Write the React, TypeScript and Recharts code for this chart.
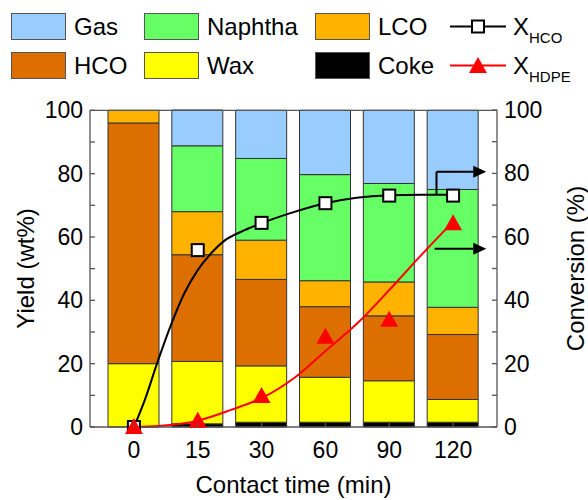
import { ComposedChart, Bar, Line, XAxis, YAxis, ReferenceLine } from 'recharts';

// ─── Data ───────────────────────────────────────────────────
const categories = ['0', '15', '30', '60', '90', '120'];
const coke = [0, 1, 1.5, 1.5, 1.5, 1.5];
const wax = [20, 19.7, 17.8, 14.2, 13.1, 7.2];
const hco = [76, 33.7, 27.3, 22.3, 20.5, 20.5];
const lco = [4, 13.6, 12.4, 8.2, 10.7, 8.6];
const naphtha = [0, 20.8, 25.8, 33.5, 31.1, 37.2];
const gas = [0, 11.3, 15.2, 20.3, 23.1, 25.0];

const xHco = [0, 55.8, 64.4, 70.6, 73.0, 73.0];
const xHdpe = [0, 2.0, 9.8, 28.5, 33.8, 64.3];

// fitted curves (x in category steps)
const hcoFitPos = [0, 0.17, 0.38, 0.59, 0.79, 1.0, 1.21, 1.42, 1.68, 2.0, 2.44, 3.0, 3.49, 4.0, 4.5, 5.0];
const hcoFitVal = [0, 8.5, 21.1, 32.7, 42.2, 49.5, 54.8, 58.8, 61.6, 64.3, 67.4, 70.6, 72.3, 73.1, 73.3, 73.3];
const hdpeFitPos = [0, 0.38, 1.0, 1.52, 2.0, 2.5, 3.0, 3.5, 4.0, 4.5, 5.0];
const hdpeFitVal = [0, 0.3, 2.0, 5.4, 9.1, 15.3, 24.0, 32.7, 43.2, 54.2, 64.8];

const yTicks = [0, 10, 20, 30, 40, 50, 60, 70, 80, 90, 100];

const barData = categories.map((t, i) => ({
  t, coke: coke[i], wax: wax[i], hco: hco[i], lco: lco[i], naphtha: naphtha[i], gas: gas[i],
}));
const hcoPoints = categories.map((_, i) => ({ x: i, y: xHco[i] }));
const hdpePoints = categories.map((_, i) => ({ x: i, y: xHdpe[i] }));
const hcoFit = hcoFitPos.map((x, i) => ({ x, y: hcoFitVal[i] }));
const hdpeFit = hdpeFitPos.map((x, i) => ({ x, y: hdpeFitVal[i] }));

const FONT = '"Liberation Sans", Arial, sans-serif';
const AXIS = '#555';
const C = {
  gas: '#99CCFF', naphtha: '#66FF66', lco: '#FFB300',
  hco: '#DD6F00', wax: '#FFFF00', coke: '#000000',
};

// ─── Ticks ──────────────────────────────────────────────────
function LeftTick({ x, y, payload }: any) {
  return (
    <g>
      <line x1={x} x2={x + 5} y1={y} y2={y} stroke={AXIS} strokeWidth={1.3} />
      {payload.value % 20 === 0 && (
        <text x={x - 7} y={y} dy="0.35em" textAnchor="end" fontSize={23} fontFamily={FONT} fill="#000">
          {payload.value}
        </text>
      )}
    </g>
  );
}

function RightTick({ x, y, payload }: any) {
  return (
    <g>
      <line x1={x - 5} x2={x} y1={y} y2={y} stroke={AXIS} strokeWidth={1.3} />
      {payload.value % 20 === 0 && (
        <text x={x + 7} y={y} dy="0.35em" textAnchor="start" fontSize={23} fontFamily={FONT} fill="#000">
          {payload.value}
        </text>
      )}
    </g>
  );
}

function BottomTick({ x, y, payload }: any) {
  return (
    <g>
      <line x1={x} x2={x} y1={y - 4} y2={y} stroke={AXIS} strokeWidth={1.3} />
      <text x={x} y={y + 23} dy="0.35em" textAnchor="middle" fontSize={23} fontFamily={FONT} fill="#000">
        {payload.value}
      </text>
    </g>
  );
}

function XTitle({ viewBox, text }: any) {
  return (
    <text x={viewBox.x + viewBox.width / 2} y={viewBox.y + 58} dy="0.35em" textAnchor="middle"
      fontSize={24} fontFamily={FONT} fill="#000">
      {text}
    </text>
  );
}

function VTitle({ viewBox, text, dx }: any) {
  const cx = viewBox.x + dx;
  const cy = viewBox.y + viewBox.height / 2;
  return (
    <text x={cx} y={cy} dy="0.35em" textAnchor="middle" fontSize={24} fontFamily={FONT}
      transform={`rotate(-90 ${cx} ${cy})`} fill="#000">
      {text}
    </text>
  );
}

// ─── Markers ────────────────────────────────────────────────
function SquareDot({ cx, cy, index }: any) {
  return <rect key={index} x={cx - 6} y={cy - 6} width={12} height={12} fill="#fff" stroke="#000" strokeWidth={2} />;
}
function TriangleDot({ cx, cy, index }: any) {
  return <polygon key={index} points={`${cx},${cy - 9} ${cx - 9},${cy + 7} ${cx + 9},${cy + 7}`} fill="#FF0000" />;
}

function Arrow({ x1, y1, x2, y2 }: any) {
  const h = 13;
  return (
    <g>
      <line x1={x1} y1={y1} x2={x2 - h} y2={y2} stroke="#000" strokeWidth={2} />
      <polygon points={`${x2},${y2} ${x2 - h},${y2 - 6} ${x2 - h},${y2 + 6}`} fill="#000" />
    </g>
  );
}

// ─── Legend ─────────────────────────────────────────────────
const swatches = [
  { name: 'Gas', color: C.gas, left: 11, top: 13 },
  { name: 'Naphtha', color: C.naphtha, left: 144, top: 13 },
  { name: 'LCO', color: C.lco, left: 315, top: 13 },
  { name: 'HCO', color: C.hco, left: 11, top: 52 },
  { name: 'Wax', color: C.wax, left: 144, top: 52 },
  { name: 'Coke', color: C.coke, left: 315, top: 52 },
];

function LegendBlock() {
  return (
    <div style={{ position: 'absolute', left: 0, top: 0, width: 588, height: 100, fontFamily: FONT, fontSize: 24 }}>
      {swatches.map(s => (
        <div key={s.name} style={{ position: 'absolute', left: s.left, top: s.top, display: 'flex', alignItems: 'center' }}>
          <div style={{ width: 55, height: 27, background: s.color, border: '1px solid #555', boxSizing: 'border-box' }} />
          <span style={{ marginLeft: 8, lineHeight: '27px' }}>{s.name}</span>
        </div>
      ))}
      <svg style={{ position: 'absolute', left: 450, top: 0 }} width={138} height={100}>
        <line x1={0} x2={56} y1={26.5} y2={26.5} stroke="#000" strokeWidth={2} />
        <rect x={22} y={20.5} width={12} height={12} fill="#fff" stroke="#000" strokeWidth={2} />
        <line x1={0} x2={56} y1={65.5} y2={65.5} stroke="#FF0000" strokeWidth={2} />
        <polygon points="28,57 19,73 37,73" fill="#FF0000" />
        <text x={63} y={35} fontSize={24} fontFamily={FONT}>X<tspan fontSize={15} dy={8}>HCO</tspan></text>
        <text x={63} y={74} fontSize={24} fontFamily={FONT}>X<tspan fontSize={15} dy={8}>HDPE</tspan></text>
      </svg>
    </div>
  );
}

export default function App() {
  const stroke = '#333';
  return (
    <div style={{ position: 'relative', width: 588, height: 500, background: '#fff' }}>
      <style>{'body{margin:0}'}</style>
      <div style={{ position: 'absolute', left: 0, top: 0 }}>
        <ComposedChart width={588} height={500} data={barData} barSize={51}
          margin={{ top: 110, right: 0, bottom: 0, left: 0 }}>
          <XAxis xAxisId="cat" dataKey="t" type="category" padding={{ left: 12, right: 12 }}
            height={73} tick={<BottomTick />} tickLine={false} tickSize={0} tickMargin={0} interval={0}
            axisLine={{ stroke: AXIS, strokeWidth: 1.3 }}
            label={{ content: (p: any) => <XTitle viewBox={p.viewBox} text="Contact time (min)" /> }} />
          <XAxis xAxisId="n" dataKey="x" type="number" domain={[-0.688, 5.688]} allowDataOverflow hide />
          <YAxis yAxisId="left" domain={[0, 100]} ticks={yTicks} width={90} interval={0}
            tick={<LeftTick />} tickLine={false} tickSize={0} tickMargin={0}
            axisLine={{ stroke: AXIS, strokeWidth: 1.3 }}
            label={{ content: (p: any) => <VTitle viewBox={p.viewBox} text="Yield (wt%)" dx={26} /> }} />
          <YAxis yAxisId="right" orientation="right" domain={[0, 100]} ticks={yTicks} width={91} interval={0}
            tick={<RightTick />} tickLine={false} tickSize={0} tickMargin={0}
            axisLine={{ stroke: AXIS, strokeWidth: 1.3 }}
            label={{ content: (p: any) => <VTitle viewBox={p.viewBox} text="Conversion (%)" dx={79} /> }} />

          <Bar xAxisId="cat" yAxisId="left" dataKey="coke" stackId="s" fill={C.coke} stroke={stroke} isAnimationActive={false} />
          <Bar xAxisId="cat" yAxisId="left" dataKey="wax" stackId="s" fill={C.wax} stroke={stroke} isAnimationActive={false} />
          <Bar xAxisId="cat" yAxisId="left" dataKey="hco" stackId="s" fill={C.hco} stroke={stroke} isAnimationActive={false} />
          <Bar xAxisId="cat" yAxisId="left" dataKey="lco" stackId="s" fill={C.lco} stroke={stroke} isAnimationActive={false} />
          <Bar xAxisId="cat" yAxisId="left" dataKey="naphtha" stackId="s" fill={C.naphtha} stroke={stroke} isAnimationActive={false} />
          <Bar xAxisId="cat" yAxisId="left" dataKey="gas" stackId="s" fill={C.gas} stroke={stroke} isAnimationActive={false} />

          <ReferenceLine xAxisId="cat" yAxisId="left" y={100} stroke={AXIS} strokeWidth={1.3} />
          <ReferenceLine xAxisId="n" yAxisId="right" segment={[{ x: 4.74, y: 73.3 }, { x: 4.74, y: 80.5 }]} stroke="#000" strokeWidth={2} />
          <ReferenceLine xAxisId="n" yAxisId="right" segment={[{ x: 4.74, y: 80.5 }, { x: 5.52, y: 80.5 }]} shape={(p: any) => <Arrow {...p} />} />
          <ReferenceLine xAxisId="n" yAxisId="right" segment={[{ x: 4.71, y: 56.2 }, { x: 5.52, y: 56.2 }]} shape={(p: any) => <Arrow {...p} />} />

          <Line xAxisId="n" yAxisId="right" data={hcoFit} dataKey="y" type="monotone" stroke="#000" strokeWidth={2} dot={false} activeDot={false} isAnimationActive={false} />
          <Line xAxisId="n" yAxisId="right" data={hdpeFit} dataKey="y" type="monotone" stroke="#FF0000" strokeWidth={2} dot={false} activeDot={false} isAnimationActive={false} />
          <Line xAxisId="n" yAxisId="right" data={hcoPoints} dataKey="y" stroke="none" dot={<SquareDot />} activeDot={false} isAnimationActive={false} />
          <Line xAxisId="n" yAxisId="right" data={hdpePoints} dataKey="y" stroke="none" dot={<TriangleDot />} activeDot={false} isAnimationActive={false} />
        </ComposedChart>
      </div>
      <LegendBlock />
    </div>
  );
}
